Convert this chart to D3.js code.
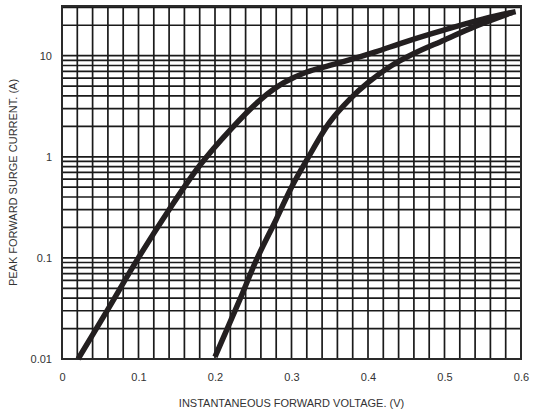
<!DOCTYPE html>
<html><head><meta charset="utf-8">
<script src="https://cdn.jsdelivr.net/npm/d3@7"></script>
<style>body{margin:0;background:#fff}svg{display:block}text{font-family:"Liberation Sans",Arial,sans-serif;fill:#333}</style>
</head><body>
<svg id="c" width="538" height="414"></svg>
<script>
const xTicks = [0, 0.1, 0.2, 0.3, 0.4, 0.5, 0.6];
const yTicks = [0.01, 0.1, 1, 10];
const yTickLabels = ["0.01", "0.1", "1", "10"];
const xLabel = "INSTANTANEOUS FORWARD VOLTAGE. (V)";
const yLabel = "PEAK FORWARD SURGE CURRENT. (A)";

const curveAV = [0.021, 0.06, 0.098, 0.14, 0.18, 0.22, 0.26, 0.29, 0.32, 0.35, 0.38, 0.41, 0.45, 0.5, 0.55, 0.593];
const curveAI = [0.01, 0.031, 0.095, 0.3, 0.82, 1.85, 3.7, 5.4, 6.9, 8.0, 9.3, 10.9, 13.8, 18, 23, 27.3];
const curveBV = [0.2, 0.232, 0.254, 0.28, 0.3, 0.32, 0.35, 0.376, 0.4, 0.43, 0.46, 0.5, 0.54, 0.588];
const curveBI = [0.0105, 0.038, 0.095, 0.24, 0.5, 0.93, 2.2, 3.7, 5.4, 7.9, 10.5, 14.3, 19.5, 26.7];

const svg = d3.select("#c");
const L = 62, R = 521, T = 6, B = 359;
const x = d3.scaleLinear().domain([0, 0.6]).range([L, R]);
const y = d3.scaleLog().domain([0.01, 31]).range([B, T]);

// grid
const g = svg.append("g");
const vLines = d3.range(0, 31).map(i => i * 0.02);
g.selectAll(".v").data(vLines).join("line")
  .attr("x1", d => x(d)).attr("x2", d => x(d)).attr("y1", T).attr("y2", B)
  .attr("stroke", "#1a1a1a").attr("stroke-width", 1.7);
const hLines = [];
[0.01, 0.1, 1, 10].forEach(dec => { for (let k = 1; k <= 9; k++) { const v = dec * k; if (v <= 31) hLines.push(v); } });
g.selectAll(".h").data(hLines).join("line")
  .attr("x1", L).attr("x2", R).attr("y1", d => y(d)).attr("y2", d => y(d))
  .attr("stroke", "#1a1a1a").attr("stroke-width", 1.7);
svg.append("rect").attr("x", L).attr("y", T).attr("width", R - L).attr("height", B - T)
  .attr("fill", "none").attr("stroke", "#2a2a2a").attr("stroke-width", 2);

// axes labels
const xAxis = d3.axisBottom(x).tickValues(xTicks).tickSize(0).tickPadding(14).tickFormat(d => d === 0 ? "0" : d3.format(".1f")(d));
const xa = svg.append("g").attr("transform", `translate(0,${B})`).call(xAxis);
xa.select(".domain").remove();
xa.selectAll("text").attr("font-size", 11).style("fill", "#333").attr("font-family", "Liberation Sans, Arial, sans-serif");
const yAxis = d3.axisLeft(y).tickValues(yTicks).tickSize(0).tickPadding(10).tickFormat((d, i) => yTickLabels[i]);
const ya = svg.append("g").attr("transform", `translate(${L},0)`).call(yAxis);
ya.select(".domain").remove();
ya.selectAll("text").attr("font-size", 11).style("fill", "#333").attr("font-family", "Liberation Sans, Arial, sans-serif");

svg.append("text").attr("x", (L + R) / 2).attr("y", 407).attr("text-anchor", "middle").attr("font-size", 11).text(xLabel);
svg.append("text").attr("transform", `translate(17,${(T + B) / 2}) rotate(-90)`).attr("text-anchor", "middle").attr("font-size", 11).text(yLabel);

// curves
const line = d3.line().x(d => x(d[0])).y(d => y(d[1])).curve(d3.curveCatmullRom.alpha(0.5));
[[curveAV, curveAI], [curveBV, curveBI]].forEach(([vs, is]) => {
  svg.append("path").datum(vs.map((v, i) => [v, is[i]])).attr("d", line)
    .attr("fill", "none").attr("stroke", "#231f20").attr("stroke-width", 5.5).attr("stroke-linecap", "butt");
});
</script>
</body></html>
